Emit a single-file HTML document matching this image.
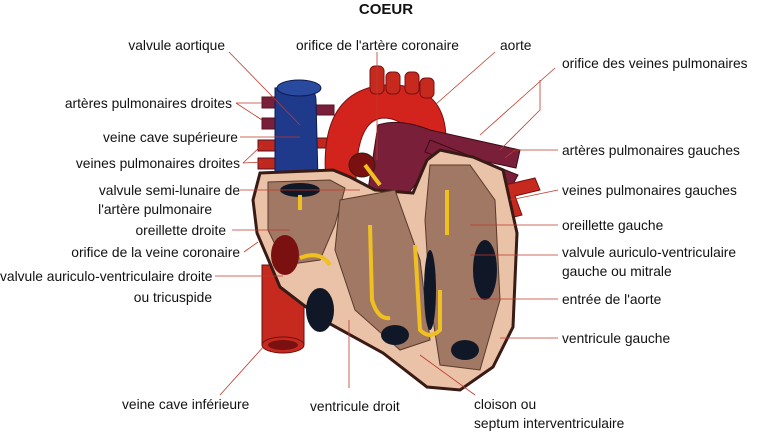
<!DOCTYPE html>
<html><head><meta charset="utf-8"><style>
body{margin:0;background:#fff;}
svg{display:block;}
text{font-family:"Liberation Sans",Arial,sans-serif;font-size:13.8px;fill:#111;}
</style></head><body>
<svg width="774" height="445" viewBox="0 0 774 445">
<text x="386" y="14" text-anchor="middle" style="font-weight:bold;font-size:15px">COEUR</text>
<g stroke="#5a1020" stroke-width="1">
<rect x="262" y="97" width="30" height="11" fill="#7a1f3a"/>
<rect x="262" y="118" width="30" height="11" fill="#7a1f3a"/>
<rect x="258" y="140" width="34" height="11" fill="#c0281e"/>
<rect x="258" y="158" width="34" height="11" fill="#c0281e"/>
<rect x="312" y="105" width="22" height="10" fill="#7a1f3a"/>
<rect x="312" y="138" width="22" height="10" fill="#c0281e"/>
</g>
<path d="M262 265 L262 345 L304 345 L304 265 Z" fill="#c62a1f" stroke="#6a1010"/>
<ellipse cx="283" cy="345" rx="21" ry="8" fill="#c62a1f" stroke="#6a1010"/>
<ellipse cx="283" cy="345" rx="15" ry="5" fill="#7a1010"/>
<path d="M275 88 L275 180 L318 180 L316 100 Q316 88 300 86 Z" fill="#1f3a8a" stroke="#0e1c50"/>
<ellipse cx="299" cy="88" rx="22" ry="8" fill="#2a4aa0" stroke="#0e1c50"/>
<path d="M326 182 Q318 92 383 85 Q446 82 446 140 L410 145 Q408 118 383 118 Q356 120 356 182 Z" fill="#d2241c" stroke="#7a1010"/>
<g fill="#c62a1f" stroke="#7a1010">
<rect x="370" y="66" width="14" height="28" rx="5"/><rect x="386" y="72" width="14" height="22" rx="5"/>
<rect x="405" y="72" width="14" height="22" rx="5"/><rect x="420" y="78" width="14" height="20" rx="5"/>
</g>
<path d="M368 190 L378 125 Q400 118 430 130 L520 150 L516 168 L440 152 L405 198 Z" fill="#7a1f3a" stroke="#400a1a"/>
<path d="M430 140 L518 175 L512 186 L425 152 Z" fill="#7a1f3a" stroke="#400a1a"/>
<path d="M505 185 L535 178 L540 190 L515 196 L522 215 L510 218 L500 200 Z" fill="#c62a1f" stroke="#7a1010"/>
<path d="M260 173 L333 170 L350 177 L375 190 L413 193 L427 160 L440 150 L473 157 L503 170 L517 233 L513 327 L493 367 L460 390 L427 387 L383 353 L323 320 L280 287 L257 233 L253 200 Z" fill="#e9c2a8" stroke="#3a1a14" stroke-width="3"/>
<path d="M268 182 L330 180 L345 188 L335 225 L320 260 L285 265 L268 230 Z" fill="#a07864" stroke="#5a3a2a"/>
<path d="M340 200 L395 190 L420 260 L430 340 L400 350 L355 310 L335 250 Z" fill="#a07864" stroke="#5a3a2a"/>
<path d="M430 165 L470 165 L495 200 L500 300 L480 370 L440 365 L430 300 L425 220 Z" fill="#a07864" stroke="#5a3a2a"/>
<ellipse cx="300" cy="190" rx="20" ry="7" fill="#101828"/>
<ellipse cx="285" cy="255" rx="14" ry="20" fill="#7a1010"/>
<ellipse cx="320" cy="310" rx="14" ry="22" fill="#101828"/>
<ellipse cx="430" cy="290" rx="6" ry="40" fill="#101828"/>
<ellipse cx="485" cy="270" rx="12" ry="30" fill="#101828"/>
<ellipse cx="395" cy="335" rx="14" ry="10" fill="#101828"/>
<ellipse cx="465" cy="350" rx="14" ry="10" fill="#101828"/>
<ellipse cx="362" cy="165" rx="13" ry="12" fill="#7a1010" stroke="#3a1a14"/>
<g stroke="#f0c020" stroke-width="4" fill="none">
<path d="M300 195 L300 210"/><path d="M300 258 Q320 250 330 265"/>
<path d="M370 225 L372 300 Q378 320 390 318"/>
<path d="M415 245 L420 330 Q430 340 440 330 L440 290"/>
<path d="M447 190 L447 235"/><path d="M365 165 L380 185"/>
</g>
<g stroke="#c0392b" stroke-width="0.8" fill="none">
<path d="M229 52 L300 125"/>
<path d="M236 103 L262 103 M236 103 L262 120"/>
<path d="M240 137 L300 137"/>
<path d="M243 163 L262 145 M243 163 L262 162"/>
<path d="M240 190 L360 190"/>
<path d="M232 230 L290 230"/>
<path d="M244 252 L258 242"/>
<path d="M215 276 L283 276"/>
<path d="M377 52 L377 160"/>
<path d="M495 52 L435 105"/>
<path d="M555 68 L480 135 M540 80 L540 110 L500 150"/>
<path d="M558 150 L515 150 L505 158"/>
<path d="M558 190 L510 200"/>
<path d="M558 225 L470 225"/>
<path d="M558 255 L470 255"/>
<path d="M558 299 L470 299"/>
<path d="M558 338 L500 338"/>
<path d="M220 395 L265 345"/>
<path d="M349 388 L349 320"/>
<path d="M475 395 L420 355"/>
</g>
<g text-anchor="end">
<text x="225" y="50">valvule aortique</text>
<text x="232" y="108">artères pulmonaires droites</text>
<text x="238" y="142">veine cave supérieure</text>
<text x="240" y="168">veines pulmonaires droites</text>
<text x="240" y="195">valvule semi-lunaire de</text>
<text x="212" y="214">l'artère pulmonaire</text>
<text x="226" y="235">oreillette droite</text>
<text x="240" y="257">orifice de la veine coronaire</text>
<text x="212" y="302">ou tricuspide</text>
</g>
<text x="0" y="281">valvule auriculo-ventriculaire droite</text>
<text x="296" y="50">orifice de l'artère coronaire</text>
<text x="500" y="50">aorte</text>
<text x="562" y="68">orifice des veines pulmonaires</text>
<text x="562" y="155">artères pulmonaires gauches</text>
<text x="562" y="195">veines pulmonaires gauches</text>
<text x="562" y="230">oreillette gauche</text>
<text x="562" y="257">valvule auriculo-ventriculaire</text>
<text x="562" y="276">gauche ou mitrale</text>
<text x="562" y="304">entrée de l'aorte</text>
<text x="562" y="343">ventricule gauche</text>
<text x="122" y="409">veine cave inférieure</text>
<text x="310" y="411">ventricule droit</text>
<text x="474" y="409">cloison ou</text>
<text x="474" y="428">septum interventriculaire</text>
</svg>
</body></html>
